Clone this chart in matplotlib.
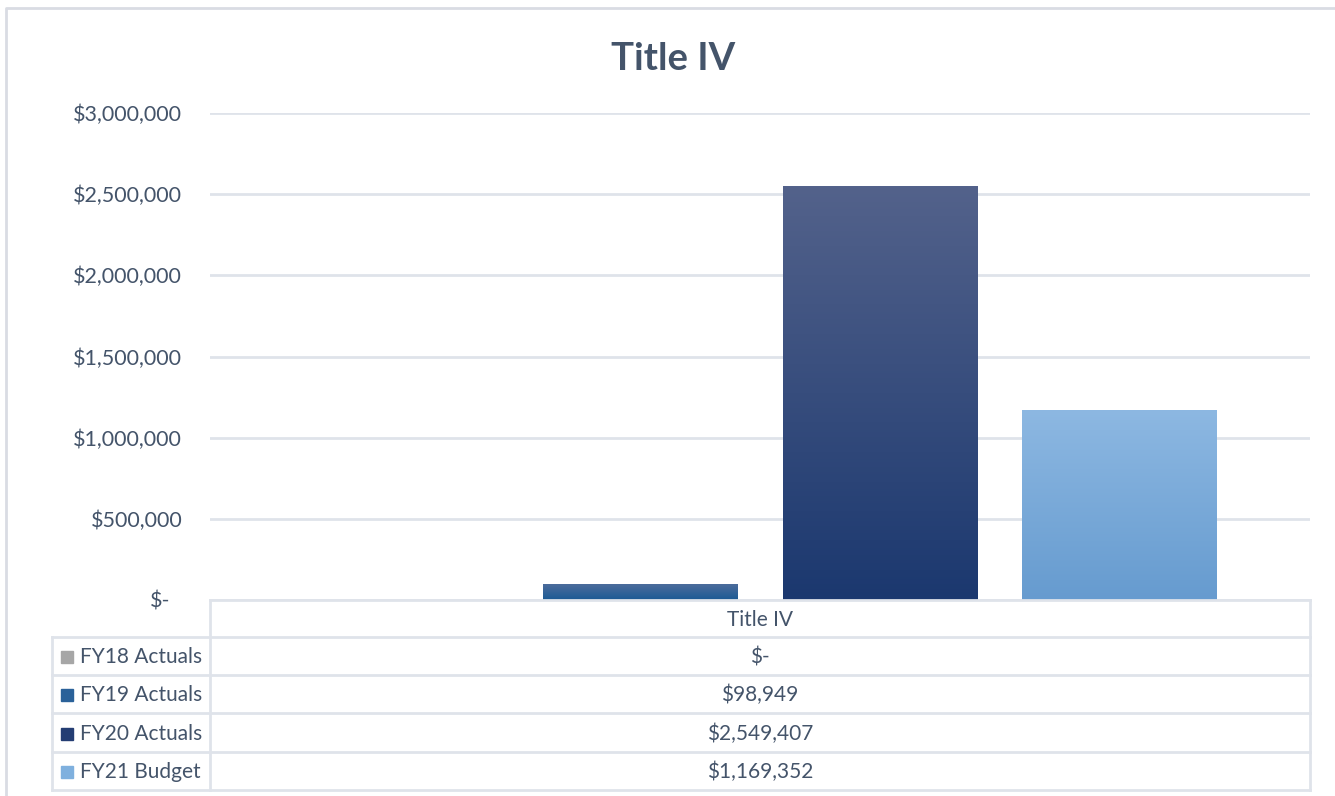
import numpy as np
import matplotlib.pyplot as plt
from matplotlib.colors import LinearSegmentedColormap
from matplotlib.lines import Line2D
from matplotlib.patches import Rectangle
from matplotlib.ticker import FuncFormatter
import matplotlib.transforms as mtransforms

plt.rcParams['font.family'] = ['Lato', 'DejaVu Sans']

title = 'Title IV'
category = 'Title IV'
series = ['FY18 Actuals', 'FY19 Actuals', 'FY20 Actuals', 'FY21 Budget']
values = [0, 98949, 2549407, 1169352]
yticks = [0, 500000, 1000000, 1500000, 2000000, 2500000, 3000000]

# top / bottom colours of the gradient fill for each series
grad = [('#b5b5b5', '#8c8c8c'),
        ('#4f6d9c', '#1b5a94'),
        ('#53628b', '#1b386f'),
        ('#8db8e2', '#669bcf')]
keys = ['#a6a6a6', '#2a6199', '#243d73', '#7fb0de']

text_c = '#44546a'
grid_c = '#dfe3ea'

W, H = 1335, 796


def fx(px):
    return px / W


def fy(py):
    return 1 - py / H


def money(v):
    return '$-' if v == 0 else '${:,.0f}'.format(v)


fig = plt.figure(figsize=(W / 100, H / 100), dpi=100)
ax = fig.add_axes([fx(210), fy(600), fx(1310) - fx(210), fy(113) - fy(600)])

x = np.arange(len(series))
bw = 194 / 239
bars = ax.bar(x, values, width=bw, color='none', zorder=3)
for b, (top, bot) in zip(bars, grad):
    h = b.get_height()
    if h <= 0:
        continue
    cmap = LinearSegmentedColormap.from_list('g', [bot, top])
    img = ax.imshow(np.linspace(0, 1, 256).reshape(-1, 1), cmap=cmap,
                    origin='lower', aspect='auto', zorder=3,
                    extent=[b.get_x(), b.get_x() + b.get_width(), 0, h])
    img.set_clip_path(b)

ax.set_xlim(-0.801, 3.801)
ax.set_ylim(0, 3000000)
ax.set_yticks(yticks)
ax.yaxis.set_major_formatter(FuncFormatter(lambda v, p: money(v)))
ax.tick_params(axis='y', length=0, pad=20, labelsize=15.5, labelcolor=text_c)
ax.set_xticks([])
ax.grid(axis='y', color=grid_c, linewidth=2, zorder=0)
for s in ax.spines.values():
    s.set_visible(False)

# accounting-style zero label sits a little further left
fig.canvas.draw()
lab0 = ax.get_yticklabels()[0]
lab0.set_transform(lab0.get_transform() +
                   mtransforms.ScaledTranslation(-12 / 100, 0, fig.dpi_scale_trans))

fig.text(fx(673), fy(59), title, ha='center', va='center', fontsize=27.5,
         fontweight='bold', color=text_c)

# data table under the plot
rows = [600, 637, 675, 713, 752, 790]


def hline(y, x0, x1):
    fig.add_artist(Line2D([fx(x0), fx(x1)], [fy(y), fy(y)], color=grid_c, lw=2))


def vline(xp, y0, y1):
    fig.add_artist(Line2D([fx(xp), fx(xp)], [fy(y0), fy(y1)], color=grid_c, lw=2))


hline(rows[0], 210, 1310)
for r in rows[1:]:
    hline(r, 52, 1310)
vline(210, 600, 790)
vline(52, 637, 790)
vline(1310, 600, 790)

cx = fx(760)
fs = 15
fig.text(cx, fy((rows[0] + rows[1]) / 2 + 1), category, ha='center', va='center',
         fontsize=fs, color=text_c)
for i, (name, v, kc) in enumerate(zip(series, values, keys)):
    yc = (rows[i + 1] + rows[i + 2]) / 2 + 1
    fig.add_artist(Rectangle((fx(61), fy(yc + 6)), fx(12), fy(0) - fy(12),
                             color=kc, transform=fig.transFigure))
    fig.text(fx(80), fy(yc), name, ha='left', va='center', fontsize=fs,
             color=text_c)
    fig.text(cx, fy(yc), money(v), ha='center', va='center', fontsize=fs,
             color=text_c)

# chart border
fig.add_artist(Line2D([fx(6), fx(6), fx(1340)], [fy(796), fy(8), fy(8)],
                      color='#d9dce3', lw=2))

fig.savefig('out.png', dpi=100, facecolor='white')
